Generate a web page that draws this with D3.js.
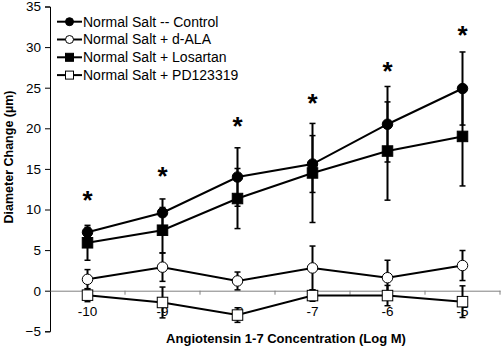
<!DOCTYPE html>
<html>
<head>
<meta charset="utf-8">
<script src="https://cdn.jsdelivr.net/npm/d3@7"></script>
<style>
  body { margin: 0; background: #fff; }
  text { font-family: "Liberation Sans", Arial, sans-serif; }
</style>
</head>
<body>
<svg id="chart"></svg>
<script>
const concentrations = ["-10", "-9", "-8", "-7", "-6", "-5"];
const yTicks = [-5, 0, 5, 10, 15, 20, 25, 30, 35];

const control = [7.2, 9.6, 14.0, 15.6, 20.5, 24.9];
const controlErr = [0.6, 1.7, 3.6, 3.5, 4.65, 4.5];
const dAla = [1.4, 2.9, 1.2, 2.8, 1.6, 3.1];
const dAlaErr = [1.2, 1.75, 1.1, 2.7, 2.15, 1.85];
const losartan = [5.9, 7.45, 11.35, 14.5, 17.2, 19.0];
const losartanErr = [2.15, 2.8, 3.7, 6.1, 6.05, 6.1];
const pd123319 = [-0.55, -1.45, -3.0, -0.6, -0.6, -1.35];
const pd123319Err = [0.8, 1.9, 0.9, 0.7, 1.25, 1.95];
// height of the significance asterisks
const sigStars = [11.7, 14.7, 20.8, 23.7, 27.6, 32.1];

const W = 502, H = 348;
const svg = d3.select("#chart").attr("width", W).attr("height", H);

const x = d3.scaleBand().domain(concentrations).range([50, 500]);
const y = d3.scaleLinear().domain([-5, 35]).range([331.3, 6.5]);

const series = [
  { name: "Normal Salt -- Control", vals: control, err: controlErr, shape: "circle", fill: "#000" },
  { name: "Normal Salt + d-ALA", vals: dAla, err: dAlaErr, shape: "circle", fill: "#fff" },
  { name: "Normal Salt + Losartan", vals: losartan, err: losartanErr, shape: "square", fill: "#000" },
  { name: "Normal Salt + PD123319", vals: pd123319, err: pd123319Err, shape: "square", fill: "#fff" }
];

// y axis
const yAxis = svg.append("g")
  .attr("transform", "translate(50,0)")
  .call(d3.axisLeft(y).tickValues(yTicks).tickSize(5).tickPadding(4));
yAxis.select(".domain").attr("stroke", "#000").attr("stroke-width", 1);
yAxis.selectAll("text").attr("font-size", 13.5).attr("fill", "#000");

// x axis sits on zero
const xAxis = svg.append("g")
  .attr("transform", `translate(0,${y(0)})`)
  .call(d3.axisBottom(x).tickSize(0).tickPadding(15.5));
xAxis.select(".domain").attr("stroke", "#808080").attr("stroke-width", 1);
xAxis.selectAll("text").attr("font-size", 13.5).attr("fill", "#000");

// tick marks between categories
const bounds = concentrations.map(c => x(c) + x.bandwidth());
svg.append("g").selectAll("line")
  .data(bounds)
  .enter().append("line")
  .attr("x1", d => d).attr("x2", d => d)
  .attr("y1", y(0)).attr("y2", y(0) + 4)
  .attr("stroke", "#808080");

const cx = c => x(c) + x.bandwidth() / 2;

function drawMarker(g, shape, fill, px, py, size) {
  if (shape === "circle") {
    g.append("circle")
      .attr("cx", px).attr("cy", py).attr("r", size / 2)
      .attr("fill", fill).attr("stroke", "#000").attr("stroke-width", 1);
  } else {
    g.append("rect")
      .attr("x", px - size / 2).attr("y", py - size / 2)
      .attr("width", size).attr("height", size)
      .attr("fill", fill).attr("stroke", "#000").attr("stroke-width", 1);
  }
}

const line = d3.line()
  .x(d => cx(d.c))
  .y(d => y(d.v));

series.forEach(s => {
  const pts = concentrations.map((c, i) => ({ c: c, v: s.vals[i], e: s.err[i] }));
  const g = svg.append("g");

  // error bars
  pts.forEach(p => {
    const px = cx(p.c);
    g.append("line")
      .attr("x1", px).attr("x2", px)
      .attr("y1", y(p.v + p.e)).attr("y2", y(p.v - p.e))
      .attr("stroke", "#000").attr("stroke-width", 2);
    [p.v + p.e, p.v - p.e].forEach(v => {
      g.append("line")
        .attr("x1", px - 3).attr("x2", px + 3)
        .attr("y1", y(v)).attr("y2", y(v))
        .attr("stroke", "#000").attr("stroke-width", 1.5);
    });
  });

  g.append("path")
    .datum(pts)
    .attr("d", line)
    .attr("fill", "none")
    .attr("stroke", "#000")
    .attr("stroke-width", 2);

  pts.forEach(p => drawMarker(g, s.shape, s.fill, cx(p.c), y(p.v), 10.5));
});

// significance asterisks
svg.append("g").selectAll("text")
  .data(sigStars)
  .enter().append("text")
  .attr("x", (d, i) => cx(concentrations[i]))
  .attr("y", d => y(d) + 13.5)
  .attr("text-anchor", "middle")
  .attr("font-size", 26)
  .attr("font-weight", "bold")
  .text("*");

// legend
const legend = svg.append("g").attr("transform", "translate(57,21.7)");
series.forEach((s, i) => {
  const row = legend.append("g").attr("transform", `translate(0,${i * 17.8})`);
  row.append("line")
    .attr("x1", 0).attr("x2", 25)
    .attr("stroke", "#000").attr("stroke-width", 2);
  drawMarker(row, s.shape, s.fill, 12.5, 0, 8);
  row.append("text")
    .attr("x", 26)
    .attr("dy", "0.35em")
    .attr("font-size", 14)
    .text(s.name);
});

// axis titles
svg.append("text")
  .attr("x", 286)
  .attr("y", 343)
  .attr("text-anchor", "middle")
  .attr("font-size", 13)
  .attr("font-weight", "bold")
  .text("Angiotensin 1-7 Concentration (Log M)");

svg.append("text")
  .attr("transform", "translate(12.5,157) rotate(-90)")
  .attr("text-anchor", "middle")
  .attr("font-size", 12.5)
  .attr("font-weight", "bold")
  .text("Diameter Change (µm)");
</script>
</body>
</html>
